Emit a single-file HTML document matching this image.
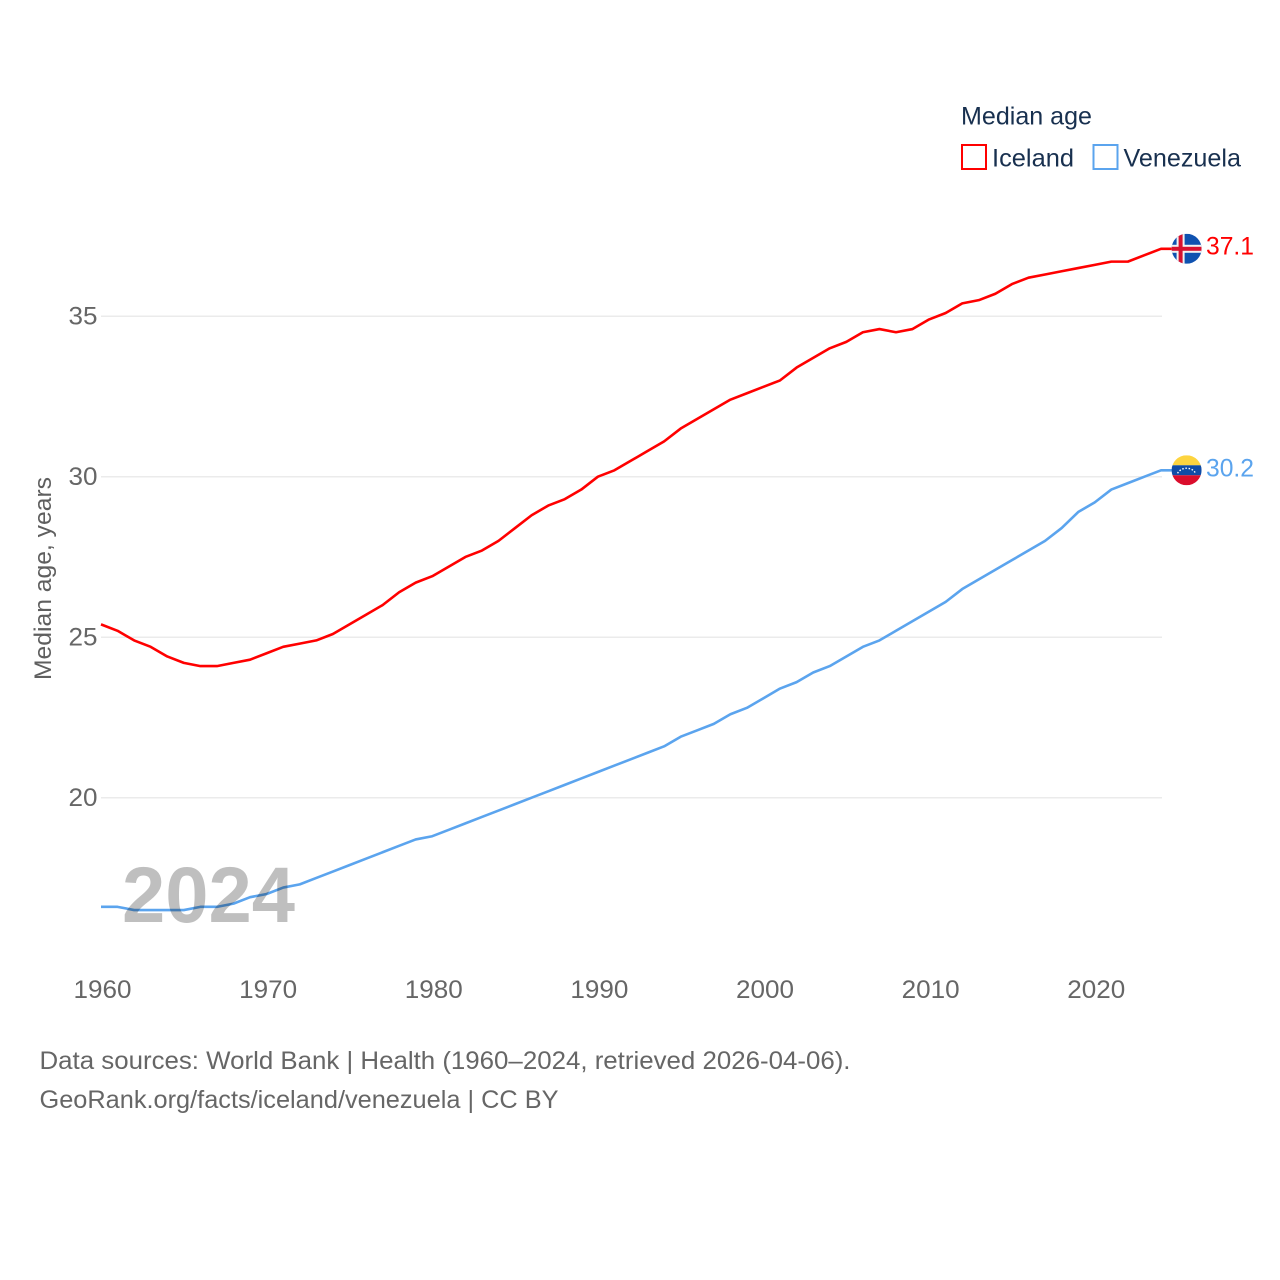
<!DOCTYPE html>
<html>
<head>
<meta charset="utf-8">
<style>
html,body{margin:0;padding:0;background:#fff;}
svg{display:block;font-family:"Liberation Sans",sans-serif;}
</style>
</head>
<body>
<svg id="chart" xmlns="http://www.w3.org/2000/svg" width="1280" height="1280" viewBox="0 0 1280 1280">
  <defs>
    <clipPath id="flag-clip"><circle cx="0" cy="0" r="15"/></clipPath>
  </defs>
  <rect width="1280" height="1280" fill="#fff"/>
  <g id="grid"></g>
  <g id="yticks"></g>
  <g id="xticks"></g>
  <g id="lines"></g>

  <text id="year-label" x="122" y="922" font-size="79" font-weight="bold" fill="rgba(0,0,0,0.25)" textLength="173" lengthAdjust="spacingAndGlyphs">2024</text>

  <text transform="translate(51,680) rotate(-90)" font-size="24" fill="#5f5f5f" textLength="203" lengthAdjust="spacingAndGlyphs">Median age, years</text>

  <g>
    <text x="961" y="124.500" font-size="25" fill="#18304f" textLength="131" lengthAdjust="spacingAndGlyphs">Median age</text>
    <rect x="962" y="145" width="24" height="24" fill="#fff" stroke="#ff0000" stroke-width="2"/>
    <text x="992" y="166.500" font-size="25" fill="#18304f" textLength="82" lengthAdjust="spacingAndGlyphs">Iceland</text>
    <rect x="1093.500" y="145" width="24" height="24" fill="#fff" stroke="#5ba4ee" stroke-width="2"/>
    <text x="1123.500" y="166.500" font-size="25" fill="#18304f" textLength="117.500" lengthAdjust="spacingAndGlyphs">Venezuela</text>
  </g>

  <g id="flag-iceland">
    <g clip-path="url(#flag-clip)">
      <rect x="-15" y="-15" width="30" height="30" fill="#0f52b0"/>
      <rect x="-10" y="-15" width="8" height="30" fill="#f2f2f2"/>
      <rect x="-15" y="-4" width="30" height="8" fill="#f2f2f2"/>
      <rect x="-8" y="-15" width="4" height="30" fill="#d8112f"/>
      <rect x="-15" y="-2" width="30" height="4" fill="#d8112f"/>
    </g>
  </g>
  <g id="flag-venezuela">
    <g clip-path="url(#flag-clip)">
      <rect x="-15" y="-15" width="30" height="10" fill="#fdd43f"/>
      <rect x="-15" y="-5" width="30" height="10" fill="#0f4ca6"/>
      <rect x="-15" y="5" width="30" height="10" fill="#da0d2c"/>
      <path d="M-9 3 A10 9 0 0 1 9 3" fill="none" stroke="#fff" stroke-width="1.400" stroke-dasharray="1.500 1.700"/>
    </g>
  </g>
  <text id="end-iceland" x="1206" font-size="25" fill="#ff0000" textLength="48" lengthAdjust="spacingAndGlyphs"></text>
  <text id="end-venezuela" x="1206" font-size="25" fill="#5ba4ee" textLength="48" lengthAdjust="spacingAndGlyphs"></text>

  <g>
    <text x="39.500" y="1069" font-size="25" fill="#666666" textLength="811" lengthAdjust="spacingAndGlyphs">Data sources: World Bank | Health (1960–2024, retrieved 2026-04-06).</text>
    <text x="39.500" y="1108" font-size="25" fill="#666666" textLength="519" lengthAdjust="spacingAndGlyphs">GeoRank.org/facts/iceland/venezuela | CC BY</text>
  </g>
</svg>
<script>
const startYear = 1960;
const xTickYears = [1960, 1970, 1980, 1990, 2000, 2010, 2020];
const yTickValues = [20, 25, 30, 35];
const iceland = [
  25.4,25.2,24.9,24.7,24.4,24.2,24.1,24.1,24.2,24.3,
  24.5,24.7,24.8,24.9,25.1,25.4,25.7,26.0,26.4,26.7,
  26.9,27.2,27.5,27.7,28.0,28.4,28.8,29.1,29.3,29.6,
  30.0,30.2,30.5,30.8,31.1,31.5,31.8,32.1,32.4,32.6,
  32.8,33.0,33.4,33.7,34.0,34.2,34.5,34.6,34.5,34.6,
  34.9,35.1,35.4,35.5,35.7,36.0,36.2,36.3,36.4,36.5,
  36.6,36.7,36.7,36.9,37.1
];
const venezuela = [
  16.6,16.6,16.5,16.5,16.5,16.5,16.6,16.6,16.7,16.9,
  17.0,17.2,17.3,17.5,17.7,17.9,18.1,18.3,18.5,18.7,
  18.8,19.0,19.2,19.4,19.6,19.8,20.0,20.2,20.4,20.6,
  20.8,21.0,21.2,21.4,21.6,21.9,22.1,22.3,22.6,22.8,
  23.1,23.4,23.6,23.9,24.1,24.4,24.7,24.9,25.2,25.5,
  25.8,26.1,26.5,26.8,27.1,27.4,27.7,28.0,28.4,28.9,
  29.2,29.6,29.8,30.0,30.2
];

const NS = 'http://www.w3.org/2000/svg';
const flagX = 1186.6;
const xScale = year => 101 + (year - 1960) * 16.5625;
const yScale = value => 797.7 - (value - 20) * 32.1;

function make(tag, attrs, parent, text) {
  const el = document.createElementNS(NS, tag);
  for (const k in attrs) el.setAttribute(k, attrs[k]);
  if (text !== undefined) el.textContent = text;
  parent.appendChild(el);
  return el;
}

const grid = document.getElementById('grid');
const yticks = document.getElementById('yticks');
const xticks = document.getElementById('xticks');
const lines = document.getElementById('lines');










yTickValues.forEach(v => {
  const gl = make('line', {x1: 101, x2: 1162, y1: yScale(v), y2: yScale(v), stroke: '#ebebeb', 'stroke-width': 1.5}, grid);
  
  
  const t = make('text', {x: 97.5, y: yScale(v) + 8.3, 'text-anchor': 'end', 'font-size': 25, fill: '#666666', textLength: 29, lengthAdjust: 'spacingAndGlyphs'}, yticks, String(v));
  
  
});

xTickYears.forEach(y => {
  const t = make('text', {x: xScale(y) + 1.5, y: 998, 'text-anchor': 'middle', 'font-size': 25, fill: '#666666', textLength: 58, lengthAdjust: 'spacingAndGlyphs'}, xticks, String(y));
  
  
});

function pathFor(values) {
  const last = values[values.length - 1];
  const pts = values.map((v, i) => (i ? 'L' : 'M') + xScale(startYear + i).toFixed(2) + ' ' + yScale(v).toFixed(2));
  pts.push('L' + flagX + ' ' + yScale(last).toFixed(2));
  return pts.join(' ');
}

const icelandLine = make('path', {d: pathFor(iceland), fill: 'none', stroke: '#ff0000', 'stroke-width': 2.6, 'stroke-linejoin': 'round'}, lines);



const venezuelaLine = make('path', {d: pathFor(venezuela), fill: 'none', stroke: '#5ba4ee', 'stroke-width': 2.6, 'stroke-linejoin': 'round'}, lines);



const lastIceland = iceland[iceland.length - 1];
const lastVenezuela = venezuela[venezuela.length - 1];
document.getElementById('flag-iceland').setAttribute('transform', 'translate(' + flagX + ',' + yScale(lastIceland) + ')');
document.getElementById('flag-venezuela').setAttribute('transform', 'translate(' + flagX + ',' + yScale(lastVenezuela) + ')');
const endIceland = document.getElementById('end-iceland');
endIceland.textContent = lastIceland.toFixed(1);
endIceland.setAttribute('y', yScale(lastIceland) + 5.7);
const endVenezuela = document.getElementById('end-venezuela');
endVenezuela.textContent = lastVenezuela.toFixed(1);
endVenezuela.setAttribute('y', yScale(lastVenezuela) + 6.4);
</script>
</body>
</html>
